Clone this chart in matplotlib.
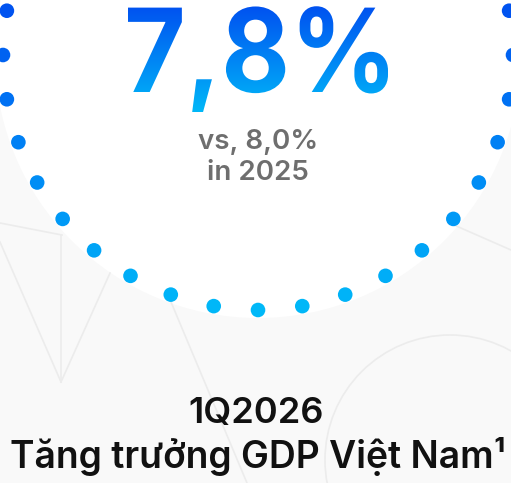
import numpy as np
import matplotlib
matplotlib.use("Agg")
import matplotlib.pyplot as plt
from matplotlib.colors import LinearSegmentedColormap
from matplotlib.patches import Circle, PathPatch, Arc
from matplotlib.textpath import TextPath
from matplotlib.font_manager import FontProperties
from matplotlib.transforms import Affine2D

# data
headline = "7,8%"
compare_lines = ["vs, 8,0%", "in 2025"]
period = "1Q2026"
title = "Tăng trưởng GDP Việt Nam\u00b9"
dot_angles = np.arange(0, 360, 10)

W, H = 511, 483
bg = "#f9f9f9"
fig = plt.figure(figsize=(W / 100, H / 100), dpi=100)
fig.patch.set_facecolor(bg)
ax = fig.add_axes([0, 0, 1, 1])
ax.set_facecolor(bg)

blue = LinearSegmentedColormap.from_list("blue", ["#0050f0", "#00b8f8"])
line_c = "#ececec"

# faint background decoration
ax.add_patch(Arc((60, 17), 726, 726, theta1=-180, theta2=0, color=line_c, lw=1.2))
ax.add_patch(Circle((450, 460), 125, fill=False, ec=line_c, lw=1.2))
for (x0, y0, x1, y1) in [(0, 242, 61, 382), (61, 235, 61, 382), (110, 273, 61, 382),
                         (171, 302, 247, 483), (454, 225, 511, 250), (0, 223, 62, 235)]:
    ax.plot([x0, x1], [y0, y1], color=line_c, lw=1.2)

# white disc behind the ring
cx, cy, r = 258, 55, 255
ax.add_patch(Circle((cx, cy), r + 8, color="white", ec="none"))

# ring of dots
dx = cx + r * np.cos(np.radians(dot_angles))
dy = cy - r * np.sin(np.radians(dot_angles))
for x, y in zip(dx, dy):
    t = np.clip(y / 310, 0, 1)
    ax.add_patch(Circle((x, y), 7.3, color=blue(t), ec="none", zorder=2))

# gradient headline
fp = FontProperties(family="Inter", weight="bold")
tp = TextPath((0, 0), headline, size=116, prop=fp)
bb = tp.get_extents()
sx = 260 / bb.width
tr = Affine2D().translate(-(bb.x0 + bb.x1) / 2, 0).scale(sx, -1).translate(258, 92)
patch = PathPatch(tr.transform_path(tp), fc="none", ec="none", zorder=3)
ax.add_patch(patch)
grad = np.linspace(0, 1, 256).reshape(-1, 1)
im = ax.imshow(grad, cmap=blue, extent=[0, W, 112, 5], aspect="auto",
               interpolation="bilinear", zorder=4)
im.set_clip_path(patch)

ax.text(258, 149, compare_lines[0], ha="center", va="baseline", fontsize=20,
        family="Inter", weight="semibold", color="#6e6e6e", zorder=5)
ax.text(258, 180, compare_lines[1], ha="center", va="baseline", fontsize=20,
        family="Inter", weight="semibold", color="#6e6e6e", zorder=5)

ax.text(256, 423, period, ha="center", va="baseline", fontsize=26,
        family="Inter", weight="semibold", color="#111111", zorder=5)
ax.text(258, 468, title, ha="center", va="baseline", fontsize=26.8,
        family="Inter", weight="semibold", color="#111111", zorder=5)

ax.set_xlim(0, W)
ax.set_ylim(H, 0)
ax.axis("off")
fig.savefig("out.png", dpi=100, facecolor=fig.get_facecolor())
